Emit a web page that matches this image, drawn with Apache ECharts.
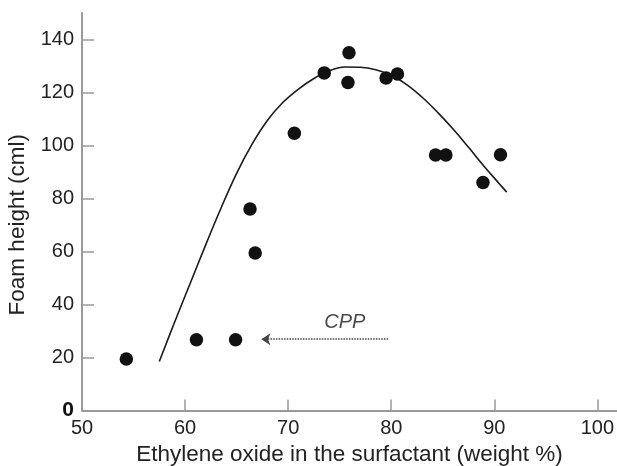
<!DOCTYPE html>
<html>
<head>
<meta charset="utf-8">
<script src="https://cdn.jsdelivr.net/npm/echarts@6/dist/echarts.min.js"></script>
<style>html,body{margin:0;padding:0;background:#fff}#c{width:617px;height:466px}</style>
</head>
<body>
<div id="c"></div>
<script>
// Measured points
const pointX = [54.3, 61.1, 64.9, 66.8, 66.3, 70.6, 73.5, 75.9, 75.8, 79.5, 80.6, 84.3, 85.3, 88.9, 90.6];
const pointY = [19.4, 26.7, 26.7, 59.4, 76.0, 104.6, 127.4, 135.0, 123.8, 125.5, 127.0, 96.4, 96.4, 86.0, 96.5];
// Fitted curve
const curveX = [57.5, 59, 60.5, 62, 63.5, 65, 66.5, 68, 69.5, 71, 72.5, 74, 75.5, 77, 78.5, 80, 81.5, 83, 84.5, 86, 87.5, 89, 90.5, 91.2];
const curveY = [18.5, 33.5, 48, 62.5, 76.5, 89.5, 100.5, 109.5, 116.3, 121.3, 125.3, 128.2, 129.6, 129.5, 128.6, 126.5, 123, 118.2, 112.5, 106.2, 99.3, 92.2, 85.5, 82.4];
// CPP arrow (from, to) and label
const cppFrom = [79.7, 26.9];
const cppTo = [67.4, 26.9];
const cppLabel = [75.5, 26.9];
const cppText = 'CPP';
const xTicks = [50, 60, 70, 80, 90, 100];
const yTicks = [0, 20, 40, 60, 80, 100, 120, 140];
const xTitle = 'Ethylene oxide in the surfactant (weight %)';
const yTitle = 'Foam height (cml)';

const FONT = 'Liberation Sans, Arial, sans-serif';
const chart = echarts.init(document.getElementById('c'), null, {renderer: 'canvas'});
const axisCol = '#999999';
chart.setOption({
  animation: false,
  backgroundColor: '#ffffff',
  grid: {left: 82, right: 0, top: 13, bottom: 55.5, containLabel: false, outerBoundsMode: 'none'},
  xAxis: {
    type: 'value', min: 50, max: 101.9,
    name: xTitle, nameLocation: 'middle', nameGap: 32,
    nameTextStyle: {fontFamily: FONT, fontSize: 22.5, color: '#222'},
    splitLine: {show: false},
    axisLine: {lineStyle: {color: axisCol, width: 2}},
    axisTick: {inside: true, length: 11, lineStyle: {color: axisCol, width: 1.5}, customValues: xTicks},
    axisLabel: {customValues: xTicks, margin: 8, fontFamily: FONT, fontSize: 20, color: '#222'}
  },
  yAxis: {
    type: 'value', min: 0, max: 150,
    name: yTitle, nameLocation: 'middle', nameGap: 52, nameRotate: 90,
    nameTextStyle: {fontFamily: FONT, fontSize: 22.5, color: '#222', padding: [0, 26, 0, 0]},
    splitLine: {show: false},
    axisLine: {show: true, lineStyle: {color: axisCol, width: 2}},
    axisTick: {show: true, inside: true, length: 12, lineStyle: {color: axisCol, width: 1.5}, customValues: yTicks.filter(v => v > 0)},
    axisLabel: {customValues: yTicks, margin: 8, fontFamily: FONT, fontSize: 20, color: '#222',
      formatter: v => v === 0 ? '{b|0}' : String(v),
      rich: {b: {fontFamily: FONT, fontSize: 21, fontWeight: 'bold', color: '#111'}}}
  },
  series: [
    {
      type: 'line', smooth: 0.4, symbol: 'none',
      data: curveX.map((x, i) => [x, curveY[i]]),
      lineStyle: {color: '#1a1a1a', width: 1.6},
      z: 2
    },
    {
      type: 'scatter', symbol: 'circle', symbolSize: 13.5,
      data: pointX.map((x, i) => [x, pointY[i]]),
      itemStyle: {color: '#111', opacity: 1},
      z: 3
    },
    {
      type: 'lines', coordinateSystem: 'cartesian2d', silent: true,
      symbol: ['none', 'arrow'], symbolSize: 9,
      data: [{coords: [cppFrom, cppTo]}],
      lineStyle: {type: [1.5, 1.2], color: '#444', width: 1.6, opacity: 1},
      z: 3
    },
    {
      type: 'scatter', symbol: 'circle', symbolSize: 1,
      data: [cppLabel],
      itemStyle: {color: 'rgba(0,0,0,0)'},
      label: {show: true, position: 'top', distance: 6, formatter: cppText,
        fontFamily: FONT, fontSize: 20, fontStyle: 'italic', color: '#1a1a1a'},
      z: 4
    }
  ]
});
</script>
</body>
</html>
